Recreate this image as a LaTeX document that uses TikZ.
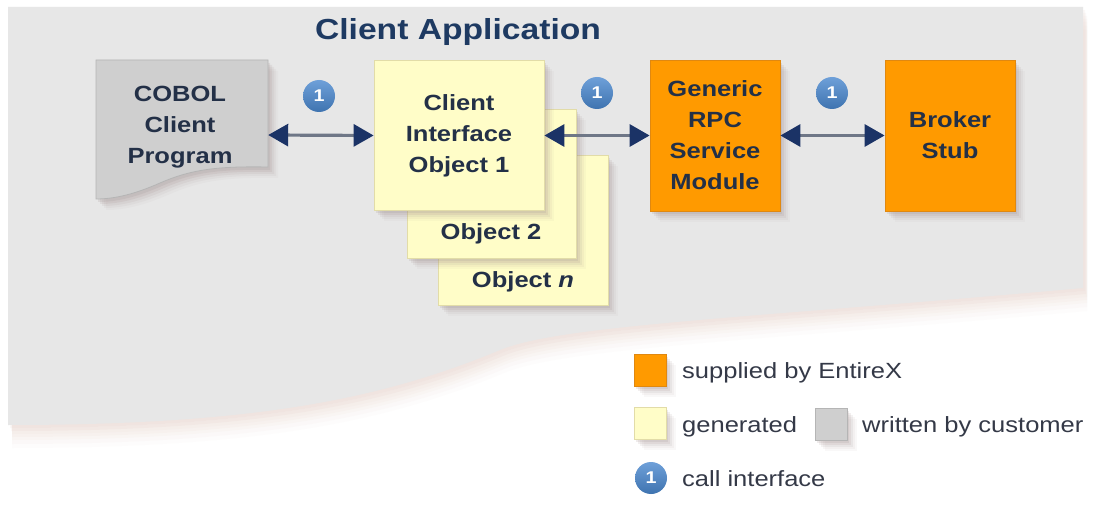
\documentclass[tikz,border=0pt]{standalone}
\usepackage{fontspec}
\setmainfont{Liberation Sans}[FakeStretch=1.16]
\usetikzlibrary{arrows.meta,shadows}
\definecolor{panel}{HTML}{E7E7E7}
\definecolor{orng}{HTML}{FF9A00}
\definecolor{orngb}{HTML}{E08810}
\definecolor{yel}{HTML}{FFFDC8}
\definecolor{yelb}{HTML}{E2DCA8}
\definecolor{gry}{HTML}{CFCFCF}
\definecolor{gryb}{HTML}{B5B5B5}
\definecolor{navy}{HTML}{1B3366}
\definecolor{txt}{HTML}{233047}
\definecolor{ttl}{HTML}{1E3A62}
\definecolor{lgd}{HTML}{343947}
\definecolor{shd}{HTML}{9C8888}
\definecolor{pshd}{HTML}{E0C4B8}
\definecolor{linec}{HTML}{6F7787}
\definecolor{bdg}{HTML}{4A88CF}
\begin{document}
\begin{tikzpicture}[x=1pt,y=-1pt,
  soft/.style={
    drop shadow={shadow xshift=2pt,shadow yshift=-3pt,opacity=.16,fill=shd},
    drop shadow={shadow xshift=4pt,shadow yshift=-5pt,opacity=.13,fill=shd},
    drop shadow={shadow xshift=6pt,shadow yshift=-7pt,opacity=.10,fill=shd},
    drop shadow={shadow xshift=8pt,shadow yshift=-9pt,opacity=.07,fill=shd},
    drop shadow={shadow xshift=10pt,shadow yshift=-11pt,opacity=.05,fill=shd}},
  boxfont/.style={font=\bfseries\fontsize{22}{31}\selectfont, text=txt, align=center},
  box/.style={rectangle, inner sep=0pt, line width=0.8pt, soft, boxfont},
  boxtext/.style={inner sep=0pt, boxfont},
  badge/.style={circle, minimum size=32pt, inner sep=0pt, top color=bdg!80!white, bottom color=bdg!85!black,
    text=white, font=\bfseries\fontsize{17}{17}\selectfont},
  legsq/.style={rectangle, minimum size=32pt, inner sep=0pt, line width=0.6pt, soft},
  legtext/.style={inner sep=0pt, text=lgd, font=\fontsize{22}{26}\selectfont, anchor=base west},
  conn/.style={line width=3.2pt, draw=linec,
    arrows={Triangle[length=20pt,width=22pt,color=navy]-Triangle[length=20pt,width=22pt,color=navy]}}
]
\useasboundingbox (0,0) rectangle (1093,513);
\fill[white] (0,0) rectangle (1093,513);
% background panel with soft shadow
\path[fill=panel,
  drop shadow={shadow xshift=2pt,shadow yshift=-3pt,opacity=.10,fill=pshd},
  drop shadow={shadow xshift=3pt,shadow yshift=-6pt,opacity=.09,fill=pshd},
  drop shadow={shadow xshift=4pt,shadow yshift=-9pt,opacity=.08,fill=pshd},
  drop shadow={shadow xshift=4pt,shadow yshift=-12pt,opacity=.07,fill=pshd},
  drop shadow={shadow xshift=4pt,shadow yshift=-15pt,opacity=.06,fill=pshd},
  drop shadow={shadow xshift=4pt,shadow yshift=-19pt,opacity=.05,fill=pshd},
  drop shadow={shadow xshift=4pt,shadow yshift=-23pt,opacity=.04,fill=pshd}]
  (8,7) -- (1083,7) -- (1083,288)
  .. controls (750,318) and (560,325) .. (500,350)
  .. controls (380,400) and (250,425) .. (8,425) -- cycle;
% title
\node[anchor=base, inner sep=0pt, text=ttl, font=\bfseries\fontsize{29}{34}\selectfont] (title) at (458,40) {Client Application};
% COBOL client program (document shape)
\node[minimum width=172pt, minimum height=150pt, inner sep=0pt] (cobol) at (182,135) {};
\path[soft, fill=gry, draw=gryb, line width=0.8pt]
  (96,60) -- (268,60) -- (268,167)
  .. controls (215,166) and (190,170) .. (160,183)
  .. controls (135,194) and (115,199) .. (96,199) -- cycle;
\node[boxtext] (cobolt) at (180,127) {COBOL\\Client\\Program};
% client interface objects
\node[box, fill=yel, draw=yelb, minimum width=170pt, minimum height=150pt] (objn) at (523,230) {};
\node[boxtext] (objnt) at (523,282) {Object \textit{n}};
\node[box, fill=yel, draw=yelb, minimum width=169pt, minimum height=149pt] (obj2) at (491.5,183.5) {};
\node[boxtext] (obj2t) at (491,234) {Object 2};
\node[box, fill=yel, draw=yelb, minimum width=170pt, minimum height=150pt] (client1) at (459,135.5) {Client\\Interface\\Object 1};
% orange boxes
\node[box, fill=orng, draw=orngb, minimum width=130pt, minimum height=151pt] (generic) at (715,135.5) {Generic\\RPC\\Service\\Module};
\node[box, fill=orng, draw=orngb, minimum width=130pt, minimum height=151pt] (broker) at (950,135.5) {Broker\\Stub};
% connectors
\draw[conn] (cobol.east) -- (client1.west);
\draw[conn] (client1.east) -- (generic.west);
\draw[conn] (generic.east) -- (broker.west);
% badges
\node[badge] (b1) at (319,96) {1};
\node[badge] (b2) at (597,93) {1};
\node[badge] (b3) at (832,93) {1};
% legend
\node[legsq, fill=orng, draw=orngb] (lorng) at (650,370) {};
\node[legtext] (lorngt) at (682,378) {supplied by EntireX};
\node[legsq, fill=yel, draw=yelb] (lyel) at (650,423) {};
\node[legtext] (lyelt) at (682,432) {generated};
\node[legsq, fill=gry, draw=gryb] (lgry) at (831,424) {};
\node[legtext] (lgryt) at (862,432) {written by customer};
\node[badge] (lbdg) at (651,478) {1};
\node[legtext] (lbdgt) at (682,486) {call interface};
\end{tikzpicture}
\end{document}
